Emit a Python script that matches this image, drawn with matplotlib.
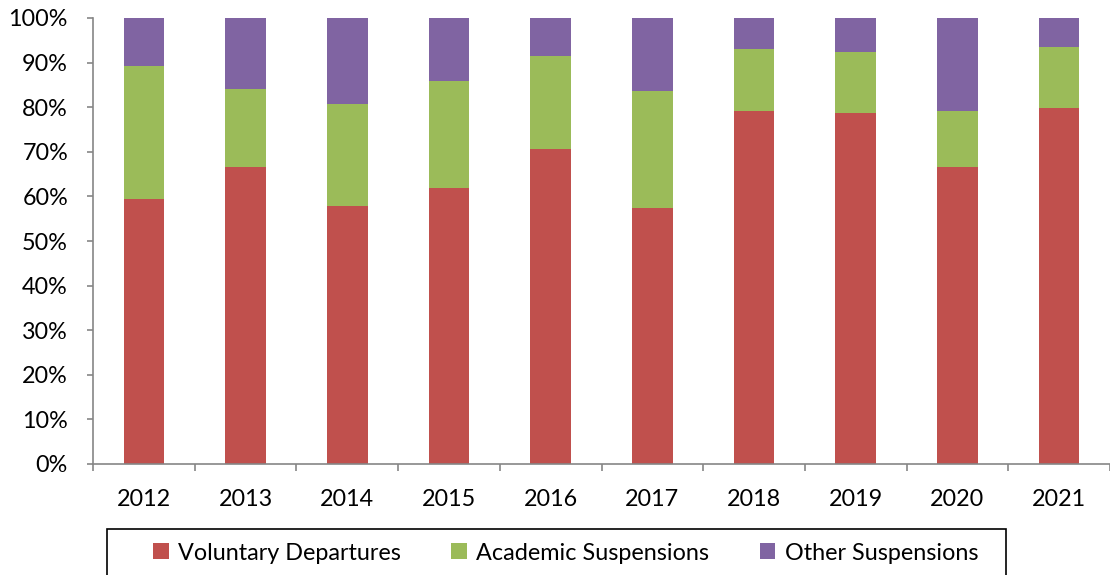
import matplotlib
matplotlib.use("Agg")
import matplotlib.pyplot as plt
from matplotlib.patches import Rectangle
from matplotlib.ticker import FixedLocator, FuncFormatter

years = ["2012", "2013", "2014", "2015", "2016", "2017", "2018", "2019", "2020", "2021"]
voluntary = [59.4, 66.6, 57.8, 61.9, 70.6, 57.4, 79.1, 78.8, 66.6, 79.9]
academic = [29.8, 17.4, 22.9, 23.9, 20.9, 26.2, 13.9, 13.5, 12.5, 13.5]
other = [10.8, 16.0, 19.3, 14.2, 8.5, 16.4, 7.0, 7.7, 20.9, 6.6]
labels = ["Voluntary Departures", "Academic Suspensions", "Other Suspensions"]
colors = ["#C0504D", "#9BBB59", "#8064A2"]

plt.rcParams['font.family'] = ['Lato', 'DejaVu Sans']
fs = 16.8
axis_grey = "#868686"

W, H = 1110, 575
fig = plt.figure(figsize=(W / 100, H / 100), dpi=100)
ax = fig.add_axes([93 / W, 1 - 464 / H, 1017 / W, 446 / H])

x = list(range(len(years)))
bottom2 = [v + a for v, a in zip(voluntary, academic)]
b1 = ax.bar(x, voluntary, width=0.4, color=colors[0], label=labels[0])
b2 = ax.bar(x, academic, width=0.4, bottom=voluntary, color=colors[1], label=labels[1])
b3 = ax.bar(x, other, width=0.4, bottom=bottom2, color=colors[2], label=labels[2])

ax.set_xlim(-0.5, len(years) - 0.5)
ax.set_ylim(0, 100)
ax.set_yticks(range(0, 101, 10))
ax.yaxis.set_major_formatter(FuncFormatter(lambda v, p: "%d%%" % v))
ax.set_xticks(x)
ax.set_xticklabels(years)
ax.xaxis.set_minor_locator(FixedLocator([i - 0.5 for i in range(len(years) + 1)]))

for s in ["top", "right"]:
    ax.spines[s].set_visible(False)
for s in ["left", "bottom"]:
    ax.spines[s].set_color(axis_grey)
    ax.spines[s].set_linewidth(1.2)

ax.tick_params(axis="y", length=4, width=1.2, color=axis_grey, pad=14, labelsize=fs)
ax.tick_params(axis="x", which="major", length=0, pad=18, labelsize=fs)
ax.tick_params(axis="x", which="minor", length=5, width=1.2, color=axis_grey)

# legend frame drawn by hand, runs off the bottom edge like the original
fig.patches.append(Rectangle((107 / W, -0.05), 899 / W, 0.05 + 1 - 529 / H,
                             transform=fig.transFigure, fill=False,
                             edgecolor="black", linewidth=1.2))
fig.legend([b1, b2, b3], labels, loc="center left",
           bbox_to_anchor=(153 / W, 1 - 553 / H), ncol=3, frameon=False,
           fontsize=fs, handlelength=0.68, handleheight=0.68,
           handletextpad=0.4, columnspacing=2.15, borderpad=0, borderaxespad=0)

fig.savefig("out.png", dpi=100)
